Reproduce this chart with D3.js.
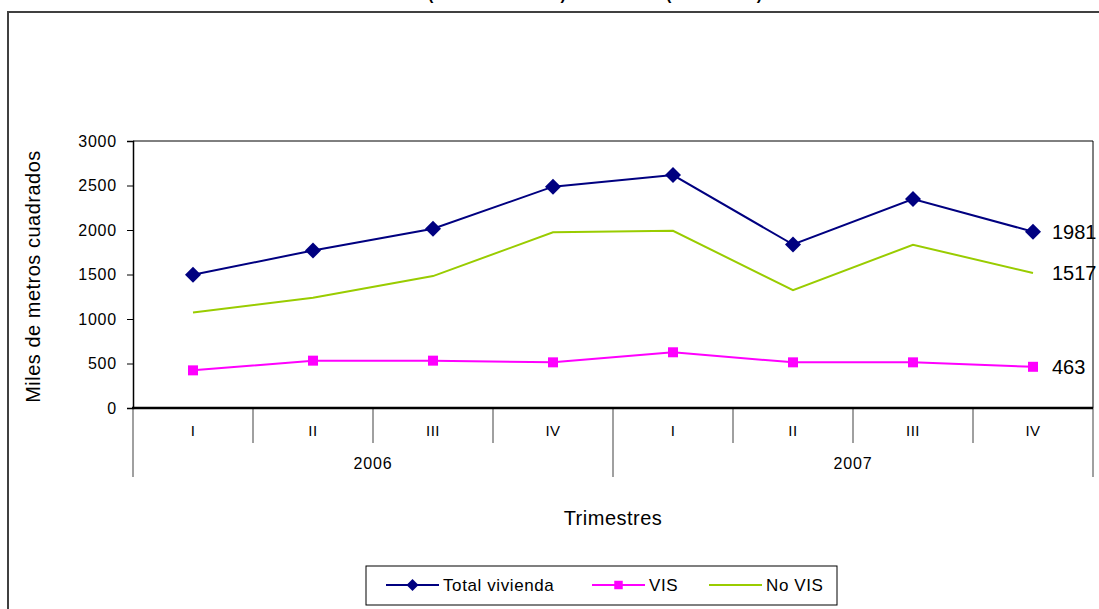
<!DOCTYPE html>
<html><head><meta charset="utf-8">
<script src="https://cdn.jsdelivr.net/npm/d3@7"></script>
<style>
html,body{margin:0;padding:0;background:#fff;overflow:hidden}
text{font-family:"Liberation Sans",Arial,sans-serif;fill:#000}
</style></head>
<body>
<svg id="c" width="1099" height="609"></svg>
<script>
const quarters = ["I","II","III","IV","I","II","III","IV"];
const years = ["2006","2007"];
const totalVivienda = [1497,1770,2014,2487,2617,1837,2347,1981];
const vis = [423,532,532,513,626,513,513,463];
const noVis = [1074,1238,1482,1974,1991,1324,1834,1517];
const yTicks = [0,500,1000,1500,2000,2500,3000];
const seriesNames = ["Total vivienda","VIS","No VIS"];

const svg = d3.select("#c");
const L=133,R=1093,T=141,B=408;
const x = d3.scaleBand().domain(d3.range(quarters.length)).range([L,R]).padding(0);
const y = d3.scaleLinear().domain([0,3000]).range([B,T]);
const cx = i => x(i)+x.bandwidth()/2;

// outer frame
svg.append("rect").attr("x",8).attr("y",12).attr("width",1300).attr("height",800)
  .attr("fill","none").attr("stroke","#404040").attr("stroke-width",2);

// title (mostly off-canvas)
const tf = {"font-weight":"bold","font-size":"16px"};
function tt(str,xx,anchor){const t=svg.append("text").attr("x",xx).attr("y",0).attr("text-anchor",anchor).text(str);Object.entries(tf).forEach(([k,v])=>t.style(k,v));}
tt("Área licenciada de vivienda ",426,"end");
tt("(miles de metros²)",428,"start");
tt("total nacional",617,"middle");
tt("(2006 - 2007)",666,"start");

// plot frame top/right
svg.append("line").attr("x1",L).attr("x2",R).attr("y1",T).attr("y2",T).attr("stroke","#000").attr("stroke-width",1);
svg.append("line").attr("x1",R).attr("x2",R).attr("y1",T).attr("y2",B).attr("stroke","#000").attr("stroke-width",1);

// y axis
const ya = svg.append("g").attr("transform",`translate(${L},0)`)
  .call(d3.axisLeft(y).tickValues(yTicks).tickSize(6).tickPadding(10).tickFormat(d3.format("d")));
ya.select(".domain").attr("stroke","#000").attr("stroke-width",1.5);
ya.selectAll(".tick line").attr("stroke","#000");
ya.selectAll(".tick text").style("font-family","'Liberation Sans',Arial,sans-serif").style("font-size","16px").style("letter-spacing","0.8px").attr("fill","#000");

// x category axis
const sep = svg.append("g");
d3.range(1,quarters.length).forEach(i=>{
  if(i===4) return;
  sep.append("line").attr("x1",x(i)).attr("x2",x(i)).attr("y1",B).attr("y2",443).attr("stroke","#808080").attr("stroke-width",1.5);
});
[0,4,8].forEach(i=>{
  const xx = i<8 ? x(i) : R;
  sep.append("line").attr("x1",xx).attr("x2",xx).attr("y1",B).attr("y2",477).attr("stroke","#808080").attr("stroke-width",1.5);
});
svg.append("line").attr("x1",L-1).attr("x2",R).attr("y1",B).attr("y2",B).attr("stroke","#000").attr("stroke-width",2.5);
svg.append("g").selectAll("text").data(quarters).join("text")
  .attr("x",(d,i)=>cx(i)).attr("y",431).attr("dy","0.35em").attr("text-anchor","middle")
  .style("font-size","15px").style("letter-spacing","0.5px").text(d=>d);
svg.append("g").selectAll("text").data(years).join("text")
  .attr("x",(d,i)=>(x(i*4)+x(i*4+3)+x.bandwidth())/2).attr("y",463).attr("dy","0.35em").attr("text-anchor","middle")
  .style("font-size","16px").style("letter-spacing","0.8px").text(d=>d);

// axis titles
svg.append("text").attr("transform",`translate(33,${(T+B)/2+2}) rotate(-90)`).attr("text-anchor","middle").attr("dy","0.35em")
  .style("font-size","20px").style("letter-spacing","0.5px").text("Miles de metros cuadrados");
svg.append("text").attr("x",613).attr("y",518).attr("dy","0.35em").attr("text-anchor","middle")
  .style("font-size","20px").style("letter-spacing","0.5px").text("Trimestres");

// series
const colors = ["#000080","#FF00FF","#99CC00"];
const data = [totalVivienda, vis, noVis];
const line = d3.line().x((d,i)=>cx(i)).y(d=>y(d));
const order = [2,1,0];
order.forEach(k=>{
  svg.append("path").datum(data[k]).attr("d",line).attr("fill","none").attr("stroke",colors[k]).attr("stroke-width",2);
});
const diamond = d3.symbol(d3.symbolSquare,128);
const square = d3.symbol(d3.symbolSquare,100);
svg.append("g").selectAll("path").data(vis).join("path")
  .attr("d",square).attr("transform",(d,i)=>`translate(${cx(i)},${y(d)})`).attr("fill",colors[1]);
svg.append("g").selectAll("path").data(totalVivienda).join("path")
  .attr("d",diamond).attr("transform",(d,i)=>`translate(${cx(i)},${y(d)}) rotate(45)`).attr("fill",colors[0]);

// end labels
const last = quarters.length-1;
data.forEach((s,k)=>{
  svg.append("text").attr("x",1052).attr("y",y(s[last])).attr("dy","0.35em")
    .style("font-size","20px").text(s[last]);
});

// legend
const lg = svg.append("g");
lg.append("rect").attr("x",366).attr("y",566).attr("width",471).attr("height",39).attr("fill","#fff").attr("stroke","#000").attr("stroke-width",1);
const legX = [386,592,709];
const ly = 585;
seriesNames.forEach((n,k)=>{
  lg.append("line").attr("x1",legX[k]).attr("x2",legX[k]+53).attr("y1",ly).attr("y2",ly).attr("stroke",colors[k]).attr("stroke-width",2);
  if(k===0) lg.append("path").attr("d",d3.symbol(d3.symbolSquare,72)).attr("transform",`translate(${legX[k]+26.5},${ly}) rotate(45)`).attr("fill",colors[0]);
  if(k===1) lg.append("path").attr("d",d3.symbol(d3.symbolSquare,72)).attr("transform",`translate(${legX[k]+26.5},${ly})`).attr("fill",colors[1]);
  lg.append("text").attr("x",legX[k]+57).attr("y",ly).attr("dy","0.35em").style("font-size","17px").style("letter-spacing","0.6px").text(n);
});
</script>
</body></html>
